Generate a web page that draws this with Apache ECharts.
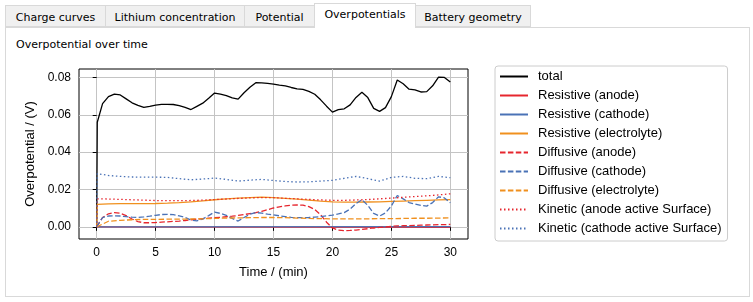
<!DOCTYPE html>
<html>
<head>
<meta charset="utf-8">
<title>Overpotentials</title>
<script src="https://cdn.jsdelivr.net/npm/echarts@6/dist/echarts.min.js"></script>
<style>
body { margin:0; background:#fff; font-family:"DejaVu Sans", sans-serif; font-size:11px; color:#000; }
.tab { position:absolute; box-sizing:border-box; top:5px; height:22px; line-height:23px;
       background:#f0f0f0; border:1px solid #d9d9d9; text-align:center; }
.tab.active { top:3px; height:25px; background:#fff; border-bottom:none; line-height:22px; z-index:2; }
#panel { position:absolute; left:5px; top:27px; width:745px; height:270px; box-sizing:border-box;
         border:1px solid #d9d9d9; }
#title { position:absolute; left:16px; top:38px; }
#main { position:absolute; left:0; top:0; width:753px; height:302px; }
</style>
</head>
<body>
<div class="tab" style="left:5px;width:101px">Charge curves</div>
<div class="tab" style="left:105px;width:140px">Lithium concentration</div>
<div class="tab" style="left:244px;width:71px">Potential</div>
<div class="tab active" style="left:314px;width:102px">Overpotentials</div>
<div class="tab" style="left:415px;width:116px">Battery geometry</div>
<div id="panel"></div>
<div id="title">Overpotential over time</div>
<div id="main"></div>
<script>
// 时间轴 (min)
var timeFine = [0, 0.05, 0.5, 1, 1.5, 2, 2.5, 3, 3.5, 4, 4.5, 5, 5.5, 6, 6.5, 7, 7.5, 8, 8.5, 9, 9.5,
  10, 10.5, 11, 11.5, 12, 12.5, 13, 13.5, 14, 14.5, 15, 15.5, 16, 16.5, 17, 17.5, 18, 18.5, 19, 19.5,
  20, 20.5, 21, 21.5, 22, 22.5, 23, 23.5, 24, 24.5, 25, 25.5, 26, 26.5, 27, 27.5, 28, 28.5, 29, 29.5, 30];
var timeCoarse = [0, 0.05, 1, 2, 3, 4, 5, 6, 7, 8, 9, 10, 11, 12, 13, 14, 15, 16, 17, 18, 19, 20,
  21, 22, 23, 24, 25, 26, 27, 28, 29, 30];
var timeFlat = [0, 0.05, 30];

var total = [0, 0.0560, 0.0660, 0.0697, 0.0710, 0.0706, 0.0685, 0.0664, 0.0650, 0.0639, 0.0645, 0.0652,
  0.0656, 0.0656, 0.0655, 0.0649, 0.0639, 0.0628, 0.0645, 0.0662, 0.0688, 0.0716, 0.0711, 0.0703, 0.0690,
  0.0684, 0.0718, 0.0747, 0.0772, 0.0771, 0.0768, 0.0764, 0.0759, 0.0755, 0.0746, 0.0739, 0.0736, 0.0725,
  0.0710, 0.0680, 0.0646, 0.0614, 0.0627, 0.0632, 0.0653, 0.0693, 0.0720, 0.0692, 0.0634, 0.0618, 0.0638,
  0.0697, 0.0786, 0.0766, 0.0737, 0.0733, 0.0722, 0.0724, 0.0755, 0.0802, 0.0800, 0.0775];
var resAnode = [0, -0.0002, -0.0002];
var resCathode = [0, 0.0001, 0.0001];
var resElectrolyte = [0, 0.0120, 0.0123, 0.0124, 0.0124, 0.0124, 0.0125, 0.0127, 0.0130, 0.0134, 0.0139,
  0.0145, 0.0150, 0.0154, 0.0157, 0.0159, 0.0157, 0.0153, 0.0148, 0.0143, 0.0138, 0.0134, 0.0132, 0.0132,
  0.0133, 0.0134, 0.0136, 0.0138, 0.0140, 0.0142, 0.0144, 0.0146];
var diffAnode = [0, 0.0005, 0.0050, 0.0070, 0.0076, 0.0073, 0.0060, 0.0042, 0.0028, 0.0022, 0.0022, 0.0023,
  0.0025, 0.0027, 0.0029, 0.0031, 0.0034, 0.0038, 0.0041, 0.0044, 0.0047, 0.0049, 0.0051, 0.0054, 0.0057,
  0.0061, 0.0066, 0.0071, 0.0076, 0.0083, 0.0092, 0.0101, 0.0107, 0.0112, 0.0116, 0.0117, 0.0116, 0.0108,
  0.0093, 0.0065, 0.0025, -0.0006, -0.0017, -0.0020, -0.0019, -0.0017, -0.0014, -0.0010, -0.0006, -0.0003,
  0.0000, 0.0003, 0.0005, 0.0006, 0.0007, 0.0008, 0.0009, 0.0010, 0.0011, 0.0012, 0.0012, 0.0013];
var diffCathode = [0, 0.0010, 0.0050, 0.0058, 0.0059, 0.0058, 0.0055, 0.0052, 0.0051, 0.0053, 0.0057, 0.0062,
  0.0066, 0.0067, 0.0065, 0.0059, 0.0050, 0.0036, 0.0032, 0.0042, 0.0060, 0.0079, 0.0072, 0.0062, 0.0045,
  0.0031, 0.0050, 0.0068, 0.0077, 0.0073, 0.0068, 0.0064, 0.0059, 0.0055, 0.0051, 0.0049, 0.0049, 0.0050,
  0.0052, 0.0055, 0.0059, 0.0063, 0.0069, 0.0076, 0.0095, 0.0125, 0.0145, 0.0115, 0.0072, 0.0058, 0.0075,
  0.0112, 0.0168, 0.0150, 0.0130, 0.0122, 0.0115, 0.0111, 0.0130, 0.0161, 0.0155, 0.0129];
var diffElectrolyte = [0, 0.0005, 0.0030, 0.0035, 0.0038, 0.0040, 0.0040, 0.0041, 0.0041, 0.0042, 0.0043,
  0.0045, 0.0047, 0.0048, 0.0049, 0.0050, 0.0050, 0.0049, 0.0047, 0.0045, 0.0044, 0.0043, 0.0043, 0.0043,
  0.0043, 0.0044, 0.0044, 0.0045, 0.0046, 0.0046, 0.0047, 0.0048];
var kinAnode = [0, 0.0150, 0.0149, 0.0147, 0.0145, 0.0143, 0.0141, 0.0140, 0.0140, 0.0141, 0.0143, 0.0146,
  0.0149, 0.0152, 0.0155, 0.0157, 0.0156, 0.0153, 0.0150, 0.0147, 0.0144, 0.0142, 0.0142, 0.0144, 0.0146,
  0.0150, 0.0154, 0.0158, 0.0162, 0.0166, 0.0171, 0.0177];
var kinCathode = [0, 0.0285, 0.0275, 0.0270, 0.0267, 0.0266, 0.0266, 0.0265, 0.0258, 0.0252, 0.0256, 0.0261,
  0.0254, 0.0245, 0.0250, 0.0254, 0.0248, 0.0243, 0.0240, 0.0241, 0.0245, 0.0249, 0.0260, 0.0270, 0.0258,
  0.0245, 0.0265, 0.0270, 0.0260, 0.0258, 0.0270, 0.0263];

var xTicks = [0, 5, 10, 15, 20, 25, 30];
var yTicks = [0, 0.02, 0.04, 0.06, 0.08];

var RED = '#e6262e', BLUE = '#4a72b6', ORANGE = '#f0901e';
var DASH = [5.5, 2.4], DOT = [1.5, 2.5];

function pairs(t, v) { return t.map(function (x, i) { return [x, v[i]]; }); }
function mk(name, t, v, color, type) {
  return {
    name: name, type: 'line', data: pairs(t, v), symbol: 'none', animation: false,
    lineStyle: { color: color, width: 1.3, type: type || 'solid' },
    itemStyle: { color: color }
  };
}

var font = 'Liberation Sans, Arial, sans-serif';
var myChart = echarts.init(document.getElementById('main'));
var option = {
  animation: false,
  grid: { left: 79, top: 69, right: 285, bottom: 63, show: true, borderColor: '#000', borderWidth: 1,
          backgroundColor: 'transparent' },
  legend: {
    orient: 'vertical', left: 495, top: 66,
    padding: [4, 6, 6, 4],
    itemWidth: 28, itemHeight: 14, itemGap: 6,
    itemStyle: { opacity: 0 },
    backgroundColor: '#fff', borderColor: '#cccccc', borderWidth: 1, borderRadius: 3,
    textStyle: { fontFamily: font, fontSize: 13, color: '#000', padding: [0, 0, 0, 5] }
  },
  xAxis: {
    type: 'value', min: -1.5, max: 31.5,
    name: 'Time / (min)', nameLocation: 'middle', nameGap: 27,
    nameTextStyle: { fontFamily: font, fontSize: 13, color: '#000' },
    axisLine: { show: false },
    axisTick: { show: true, length: 4, lineStyle: { color: '#000' }, customValues: xTicks },
    axisLabel: { fontFamily: font, fontSize: 12, color: '#000', margin: 8, customValues: xTicks },
    splitLine: { show: true, lineStyle: { color: '#c4c4c4', width: 1 } }
  },
  yAxis: {
    type: 'value', min: -0.0065, max: 0.0845,
    name: 'Overpotential / (V)', nameLocation: 'middle', nameGap: 42,
    nameTextStyle: { fontFamily: font, fontSize: 13, color: '#000' },
    axisLine: { show: false },
    axisTick: { show: true, length: 4, lineStyle: { color: '#000' }, customValues: yTicks },
    axisLabel: { fontFamily: font, fontSize: 12, color: '#000', margin: 8, customValues: yTicks,
                 formatter: function (v) { return v.toFixed(2); } },
    splitLine: { show: true, lineStyle: { color: '#c4c4c4', width: 1 } }
  },
  series: [
    mk('total', timeFine, total, '#000'),
    mk('Resistive (anode)', timeFlat, resAnode, RED),
    mk('Resistive (cathode)', timeFlat, resCathode, BLUE),
    mk('Resistive (electrolyte)', timeCoarse, resElectrolyte, ORANGE),
    mk('Diffusive (anode)', timeFine, diffAnode, RED, DASH),
    mk('Diffusive (cathode)', timeFine, diffCathode, BLUE, DASH),
    mk('Diffusive (electrolyte)', timeCoarse, diffElectrolyte, ORANGE, DASH),
    mk('Kinetic (anode active Surface)', timeCoarse, kinAnode, RED, DOT),
    mk('Kinetic (cathode active Surface)', timeCoarse, kinCathode, BLUE, DOT)
  ]
};
myChart.setOption(option);
</script>
</body>
</html>
